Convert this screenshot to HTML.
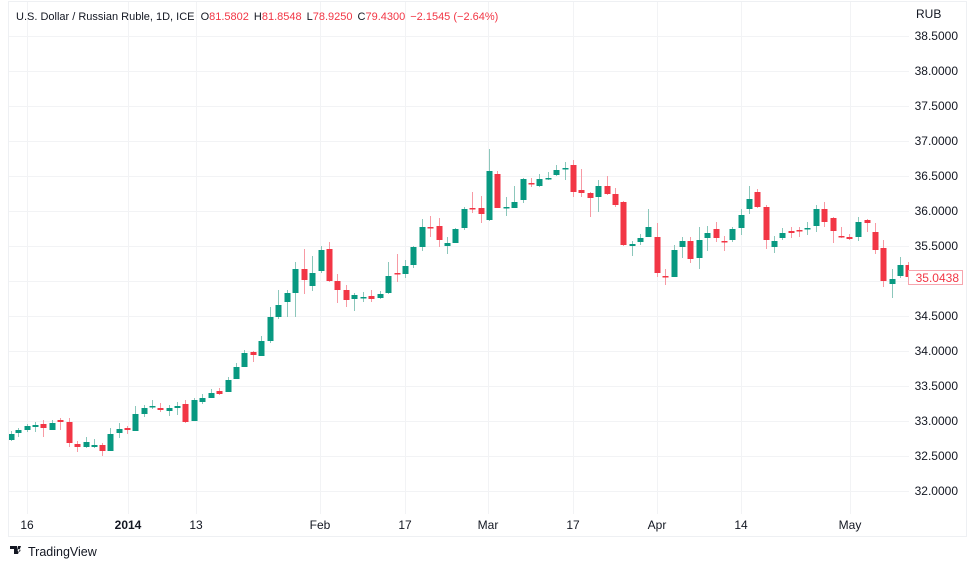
<!DOCTYPE html>
<html><head><meta charset="utf-8"><style>
html,body{margin:0;padding:0;background:#fff;}
svg{display:block;font-family:"Liberation Sans",sans-serif;}
</style></head><body>
<svg id="s" width="975" height="567" viewBox="0 0 975 567" xmlns="http://www.w3.org/2000/svg">
<rect x="0" y="0" width="975" height="567" fill="#fff"/>
<rect x="8.5" y="1.5" width="958" height="535" fill="none" stroke="#eef0f3"/>
<g id="grid" stroke="#f2f3f5" stroke-width="1"></g>
<clipPath id="cp"><rect x="9" y="2" width="900" height="512"/></clipPath>
<g id="c" clip-path="url(#cp)"></g>
<text x="16" y="20" font-size="11" fill="#131722">U.S. Dollar / Russian Ruble, 1D, ICE <tspan dx="3">O</tspan><tspan fill="#f23645">81.5802</tspan><tspan dx="5">H</tspan><tspan fill="#f23645">81.8548</tspan><tspan dx="5">L</tspan><tspan fill="#f23645">78.9250</tspan><tspan dx="5">C</tspan><tspan fill="#f23645">79.4300</tspan><tspan dx="5" fill="#f23645">−2.1545 (−2.64%)</tspan></text>
<text x="916" y="18" font-size="12" fill="#131722">RUB</text>
<g id="yl" font-size="12" fill="#131722" text-anchor="end"></g>
<g id="xl" font-size="12" fill="#131722" text-anchor="middle"></g>
<rect x="908.5" y="270.5" width="54" height="14" fill="#fff" stroke="#f7a5ae"/>
<text x="959" y="282" font-size="12" fill="#f23645" text-anchor="end">35.0438</text>
<g transform="translate(10,546)"><path d="M0 0h7v8h-3v-5h-4z M8 0h3l-3 8h-2z M9 3a1.4 1.4 0 1 0 .1 0z" fill="#131722"/></g>
<text x="28" y="556" font-size="12.5" fill="#131722">TradingView</text>
</svg>
<script>
var s='http://www.w3.org/2000/svg';
function el(p,t,a,tx){var e=document.createElementNS(s,t);for(var k in a)e.setAttribute(k,a[k]);if(tx)e.textContent=tx;p.appendChild(e);return e;}
var g=document.getElementById('grid'),yl=document.getElementById('yl'),xl=document.getElementById('xl');
var prices=['38.5000','38.0000','37.5000','37.0000','36.5000','36.0000','35.5000','35.0000','34.5000','34.0000','33.5000','33.0000','32.5000','32.0000'];
prices.forEach(function(p,i){var y=36+35*i;el(g,'line',{x1:9,x2:909,y1:y+.5,y2:y+.5});if(p!='35.0000')el(yl,'text',{x:958,y:y+4},p);});
var xs=[[27,'16'],[128,'2014'],[196,'13'],[320,'Feb'],[405,'17'],[488,'Mar'],[573,'17'],[657,'Apr'],[741,'14'],[850,'May']];
xs.forEach(function(a){el(g,'line',{x1:a[0]+.5,x2:a[0]+.5,y1:2,y2:514});var t=el(xl,'text',{x:a[0],y:529},a[1]);if(a[1]=='2014')t.setAttribute('font-weight','bold');});
var d=[
[11,'g',434,440,431,441],[18,'g',430,433,428,437],[27,'g',426,430,424,432],[35,'g',425,427,422,432],[43,'r',424,428,420,437],[52,'g',423,430,420,430],[60,'r',420,422,418,430],[69,'r',422,443,418,447],[77,'r',444,447,441,452],[86,'g',442,447,437,448],[94,'g',445,447,439,448],[102,'r',445,451,443,456],[110,'g',434,451,428,451],[119,'g',429,433,423,438],[127,'r',428,430,426,434],[135,'g',414,431,406,431],[144,'g',408,414,405,417],[152,'g',406,407,400,409],[160,'r',408,410,403,412],[169,'g',408,411,405,416],[177,'g',406,408,402,415],[185,'r',404,422,400,423],[194,'g',400,421,398,421],[202,'g',398,402,394,404],[211,'g',393,398,389,398],[219,'r',391,394,388,395],[228,'g',380,392,377,392],[236,'g',367,379,363,379],[244,'g',353,367,350,367],[253,'r',352,355,351,362],[261,'g',341,356,336,356],[270,'g',317,341,307,343],[278,'g',305,317,290,319],[287,'g',293,302,290,317],[295,'g',269,293,262,317],[304,'r',269,280,249,294],[312,'g',273,286,256,291],[321,'g',250,271,246,273],[329,'r',249,281,242,282],[337,'r',281,290,274,303],[346,'r',290,300,285,307],[354,'g',295,299,293,311],[363,'g',297,298,292,302],[371,'r',296,299,290,302],[380,'g',294,298,291,299],[388,'g',276,293,262,294],[397,'r',273,274,254,282],[405,'g',266,274,260,278],[413,'g',247,265,246,268],[422,'g',227,247,219,251],[430,'r',227,228,216,237],[439,'r',226,240,218,247],[447,'g',243,246,237,254],[455,'g',229,243,228,243],[464,'g',209,228,207,230],[472,'r',208,209,192,213],[481,'r',208,214,196,223],[489,'g',171,220,149,221],[497,'r',174,208,171,208],[506,'g',207,208,197,216],[514,'g',202,208,186,208],[523,'g',179,200,178,203],[531,'r',183,184,178,187],[539,'g',179,186,174,187],[548,'g',178,179,172,180],[556,'g',170,175,165,176],[565,'g',168,169,162,180],[573,'r',165,192,160,197],[581,'r',190,193,169,197],[590,'r',193,198,192,217],[598,'g',186,197,180,212],[607,'r',186,194,176,195],[615,'r',194,205,188,207],[623,'r',202,245,201,246],[632,'g',244,246,241,256],[640,'g',238,242,234,245],[648,'g',227,237,209,237],[657,'r',237,273,223,277],[665,'r',276,277,269,285],[674,'g',250,277,245,277],[682,'g',241,247,237,258],[690,'r',241,259,237,263],[699,'g',240,258,227,269],[707,'g',233,238,226,251],[716,'r',229,238,222,242],[724,'r',241,242,236,251],[732,'g',229,240,227,242],[741,'g',215,228,209,235],[749,'g',199,209,186,214],[757,'r',192,207,189,208],[766,'r',207,240,205,249],[774,'g',241,247,236,253],[782,'g',233,238,228,240],[791,'r',231,233,227,238],[799,'r',230,231,227,237],[807,'g',228,229,222,235],[816,'g',209,226,205,232],[824,'r',209,222,202,227],[833,'r',218,231,217,243],[841,'r',236,237,227,238],[849,'r',237,239,234,240],[858,'g',222,237,217,241],[867,'r',220,223,219,232],[875,'r',232,250,223,254],[883,'r',248,281,240,287],[892,'g',279,284,269,298],[900,'g',265,276,257,278],[908,'r',265,277,262,278]];
var c=document.getElementById('c');
d.forEach(function(a){var col=a[1]=='g'?'#089981':'#f23645';var w=a[1]=='g'?'#8cc7bb':'#f79aa4';
el(c,'line',{x1:a[0]+.5,x2:a[0]+.5,y1:a[4],y2:a[5],stroke:w,'stroke-width':1});
var h=Math.max(a[3]-a[2],1.5);el(c,'rect',{x:a[0]-2.5,y:a[2],width:6,height:h,fill:col});});
</script>
</body></html>
